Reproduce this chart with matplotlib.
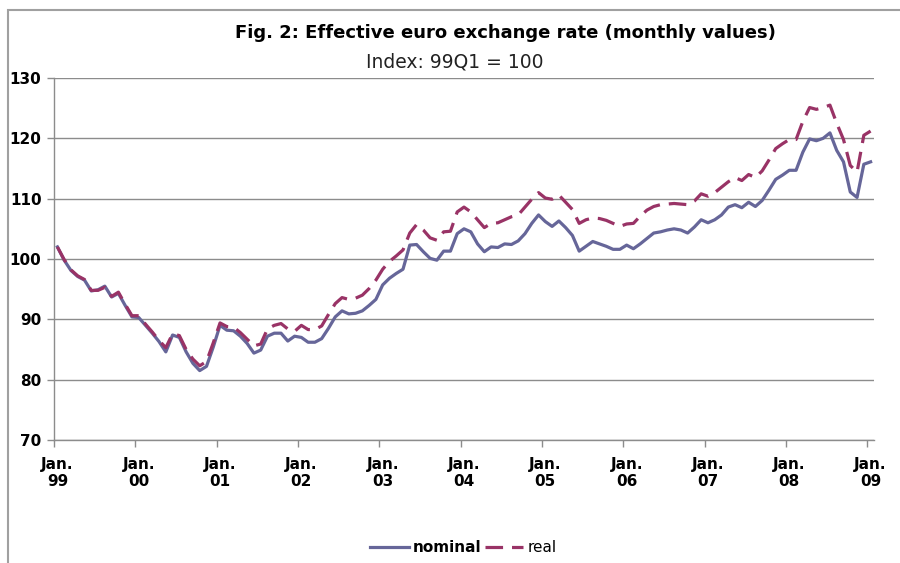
import matplotlib.pyplot as plt
from matplotlib.patches import Rectangle

# --- Data: monthly index, Jan 99 .. Jan 09 (99Q1 = 100) ---
nominal = [
    102.0, 99.8, 98.1, 97.1, 96.5, 94.7, 94.9, 95.5, 93.7, 94.3, 92.3, 90.4,   # 1999
    90.3, 89.0, 87.7, 86.3, 84.6, 87.4, 87.0, 84.6, 82.7, 81.5, 82.2, 85.4,    # 2000
    89.0, 88.2, 88.1, 87.2, 86.0, 84.4, 84.9, 87.2, 87.7, 87.7, 86.4, 87.2,    # 2001
    87.0, 86.2, 86.2, 86.8, 88.5, 90.4, 91.4, 90.9, 91.0, 91.4, 92.3, 93.3,    # 2002
    95.7, 96.8, 97.6, 98.3, 102.3, 102.4, 101.2, 100.1, 99.8, 101.3, 101.3, 104.2,  # 2003
    105.0, 104.5, 102.5, 101.2, 102.0, 101.9, 102.5, 102.4, 103.0, 104.2, 105.9, 107.3,  # 2004
    106.2, 105.4, 106.3, 105.2, 103.9, 101.3, 102.1, 102.9, 102.5, 102.1, 101.6, 101.6,  # 2005
    102.3, 101.7, 102.5, 103.4, 104.3, 104.5, 104.8, 105.0, 104.8, 104.3, 105.3, 106.5,  # 2006
    106.0, 106.5, 107.3, 108.6, 109.0, 108.5, 109.4, 108.7, 109.7, 111.4, 113.2, 113.9,  # 2007
    114.7, 114.7, 117.7, 119.9, 119.6, 120.0, 120.9, 118.0, 116.1, 111.1, 110.2, 115.7,  # 2008
    116.1,                                                                       # Jan 09
]
real = [
    102.0, 99.9, 98.2, 97.2, 96.6, 94.8, 94.8, 95.3, 93.8, 94.5, 92.5, 90.6,   # 1999
    90.6, 89.2, 87.9, 86.5, 85.3, 87.6, 87.3, 85.0, 83.4, 82.3, 83.0, 86.1,    # 2000
    89.4, 88.8, 88.7, 87.8, 86.7, 85.6, 85.9, 88.4, 89.0, 89.3, 88.4, 88.0,    # 2001
    89.0, 88.3, 88.3, 88.9, 90.8, 92.6, 93.6, 93.3, 93.5, 94.0, 95.1, 96.5,    # 2002
    98.3, 99.6, 100.5, 101.5, 104.3, 105.7, 104.8, 103.5, 103.1, 104.5, 104.6, 107.8,  # 2003
    108.6, 107.8, 106.5, 105.2, 105.9, 106.0, 106.5, 107.0, 107.3, 108.6, 109.9, 111.0,  # 2004
    110.1, 109.9, 110.6, 109.4, 108.2, 105.9, 106.5, 106.8, 106.7, 106.4, 105.9, 105.4,  # 2005
    105.8, 105.9, 107.1, 108.1, 108.7, 109.0, 109.1, 109.2, 109.1, 109.0, 109.6, 110.8,  # 2006
    110.4, 111.0, 111.9, 112.8, 113.5, 113.0, 114.0, 113.5, 114.6, 116.4, 118.3, 119.1,  # 2007
    119.8, 119.8, 122.8, 125.1, 124.8, 125.1, 125.5, 122.5, 119.8, 115.5, 114.4, 120.5,  # 2008
    121.2,                                                                       # Jan 09
]
year_labels = ["99", "00", "01", "02", "03", "04", "05", "06", "07", "08", "09"]
months = list(range(len(nominal)))

# --- Style ---
plt.rcParams["font.family"] = ["DejaVu Sans"]
fig = plt.figure(figsize=(9, 5.63), dpi=100)
ax = fig.add_axes([0.06, 0.2185, 0.9111, 0.643])

ax.plot(months, nominal, color="#666699", lw=2.3, label="nominal",
        solid_joinstyle="round")
ax.plot(months, real, color="#993366", lw=2.3, label="real",
        dashes=(5.5, 2.8))

ax.set_xlim(-0.5, 120.5)
ax.set_ylim(70, 130)
ax.set_yticks(range(70, 131, 10))
ax.grid(axis="y", color="#8c8c8c", lw=1.0)
ax.set_axisbelow(True)

# year boundaries as ticks, labels on January
ax.set_xticks([12 * k - 0.5 for k in range(11)], labels=[""] * 11)
ax.set_xticks([12 * k for k in range(11)],
              labels=[f"Jan.\n{y}" for y in year_labels], minor=True)
ax.tick_params(axis="x", which="major", length=5, color="#8c8c8c", width=1)
ax.tick_params(axis="x", which="minor", length=0, pad=12, labelsize=11)
ax.tick_params(axis="y", length=5, color="#8c8c8c", width=1, labelsize=11, pad=4)
for lab in ax.get_xticklabels(minor=True) + ax.get_yticklabels():
    lab.set_fontweight("bold")

for s in ["top", "right"]:
    ax.spines[s].set_visible(False)
for s in ["left", "bottom"]:
    ax.spines[s].set_color("#8c8c8c")
    ax.spines[s].set_linewidth(1)

# Titles
fig.text(0.562, 0.941, "Fig. 2: Effective euro exchange rate (monthly values)",
         ha="center", va="center", fontsize=13, fontweight="bold")
fig.text(0.505, 0.889, "Index: 99Q1 = 100", ha="center", va="center",
         fontsize=13.5, color="#222222")

# Legend
leg = fig.legend(loc="center", bbox_to_anchor=(0.515, 0.027), ncol=2,
                 frameon=False, fontsize=11, handlelength=2.5,
                 handletextpad=0.3, columnspacing=0.2)
leg.get_texts()[0].set_fontweight("bold")

# Outer frame (cut off at right and bottom)
fig.patches.append(Rectangle((8 / 900, -0.1), 1.2, 1.1 - 10 / 563,
                             transform=fig.transFigure, fill=False,
                             edgecolor="#a0a0a0", linewidth=1.5))

fig.savefig("out.png", dpi=100, facecolor="white")
